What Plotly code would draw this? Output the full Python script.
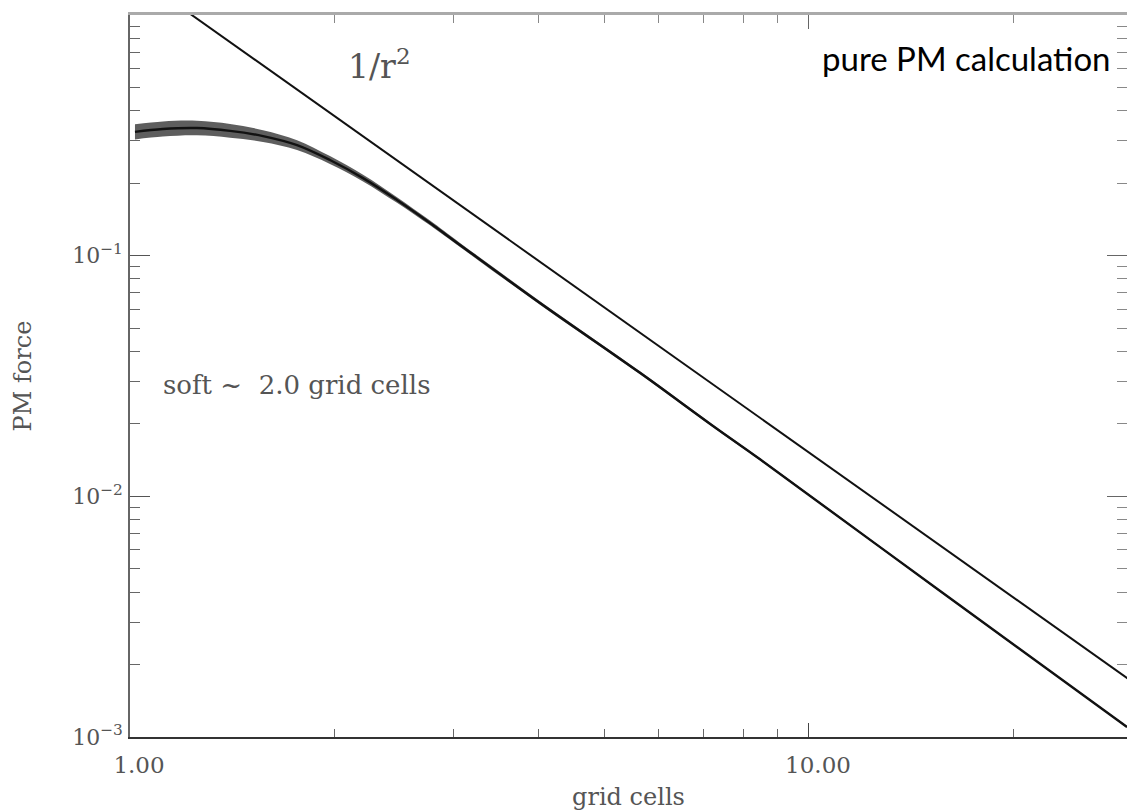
import numpy as np
import plotly.graph_objects as go

r_pm = [1.017, 1.118, 1.255, 1.404, 1.570, 1.762, 1.970, 2.204, 2.473, 2.766,
        3.062, 4.016, 5.637, 7.222, 8.470, 15.6, 29.4]
f_pm = [0.327, 0.336, 0.339, 0.330, 0.314, 0.288, 0.2497, 0.210, 0.1703, 0.1367,
        0.1108, 0.0636, 0.0326, 0.0196, 0.01425, 0.00404, 0.001101]
# fractional scatter of the measured points around the mean curve
f_spread = [0.075, 0.075, 0.072, 0.068, 0.058, 0.048, 0.038, 0.032, 0.027, 0.023,
            0.02, 0.017, 0.014, 0.012, 0.01, 0.008, 0.008]

# 1/r^2 reference line (end points)
r_ref = [1.2, 30.0]
f_ref = [1.056, 0.00169]

x_ticks = [1, 10]
x_ticktext = ["1.00", "10.00"]
y_ticks = [1e-3, 1e-2, 1e-1, 1]
y_ticktext = ["10<sup>−3</sup>", "10<sup>−2</sup>", "10<sup>−1</sup>", "10<sup>0</sup>"]

f_hi = [f * (1 + s) for f, s in zip(f_pm, f_spread)]
f_lo = [f / (1 + s) for f, s in zip(f_pm, f_spread)]

serif = "DejaVu Serif"
gray = "#555555"

fig = go.Figure()
fig.add_trace(go.Scatter(x=r_pm, y=f_lo, mode="lines", line=dict(width=0, shape="spline"),
                         showlegend=False, hoverinfo="skip"))
fig.add_trace(go.Scatter(x=r_pm, y=f_hi, mode="lines", line=dict(width=0, shape="spline"),
                         fill="tonexty", fillcolor="rgba(40,40,40,0.75)",
                         showlegend=False, hoverinfo="skip"))
fig.add_trace(go.Scatter(x=r_pm, y=f_pm, mode="lines",
                         line=dict(color="#111111", width=2.4, shape="spline"),
                         showlegend=False))
fig.add_trace(go.Scatter(x=r_ref, y=f_ref, mode="lines",
                         line=dict(color="#111111", width=2), showlegend=False))

xrange = [0, np.log10(29.4)]
yrange = [-3, 0]

fig.update_layout(
    width=1127, height=812,
    margin=dict(l=130, r=0, t=15, b=75, autoexpand=False),
    paper_bgcolor="white", plot_bgcolor="white",
    font=dict(family=serif, color=gray),
    xaxis=dict(type="log", range=xrange, showgrid=False, zeroline=False, automargin=False,
               showline=True, linecolor="#333333", linewidth=2,
               ticks="inside", ticklen=14, tickwidth=1.2, tickcolor="#444444",
               tickvals=x_ticks, ticktext=x_ticktext,
               tickfont=dict(family=serif, size=23, color=gray),
               ticklabelstandoff=6, ticklabelshift=9,
               minor=dict(ticks="inside", ticklen=8, tickwidth=1, tickcolor="#666666",
                          dtick="D1", showgrid=False),
               title=dict(text="grid cells", font=dict(family=serif, size=24, color=gray),
                          standoff=12)),
    yaxis=dict(type="log", range=yrange, showgrid=False, zeroline=False, automargin=False,
               showline=True, linecolor="#666666", linewidth=1.5,
               ticks="inside", ticklen=20, tickwidth=1.2, tickcolor="#555555",
               tickvals=y_ticks, ticktext=y_ticktext,
               tickfont=dict(family=serif, size=22, color=gray),
               ticklabelstandoff=1,
               minor=dict(ticks="inside", ticklen=10, tickwidth=1, tickcolor="#666666",
                          dtick="D1", showgrid=False),
               title=dict(text="PM force", font=dict(family=serif, size=24, color=gray),
                          standoff=34)),
    xaxis2=dict(type="log", range=xrange, overlaying="x", side="top", anchor="y",
                automargin=False,
                showgrid=False, zeroline=False, showline=True, linecolor="#aaaaaa",
                linewidth=3, ticks="inside", ticklen=14, tickwidth=1.2, tickcolor="#666666",
                tickvals=x_ticks, showticklabels=False,
                minor=dict(ticks="inside", ticklen=8, tickwidth=1, tickcolor="#888888",
                           dtick="D1", showgrid=False)),
    yaxis2=dict(type="log", range=yrange, overlaying="y", side="right", anchor="x",
                automargin=False,
                showgrid=False, zeroline=False, showline=True, linecolor="#777777",
                linewidth=1.5, ticks="inside", ticklen=20, tickwidth=1.2, tickcolor="#666666",
                tickvals=y_ticks, showticklabels=False,
                minor=dict(ticks="inside", ticklen=10, tickwidth=1, tickcolor="#888888",
                           dtick="D1", showgrid=False)),
)
# invisible trace to activate the mirrored axes
fig.add_trace(go.Scatter(x=r_ref, y=f_ref, xaxis="x2", yaxis="y2", mode="lines",
                         line=dict(width=0), showlegend=False, hoverinfo="skip"))

fig.add_annotation(x=np.log10(2.33), y=np.log10(0.62), xref="x", yref="y",
                   text="1/r<sup>2</sup>", showarrow=False,
                   font=dict(family=serif, size=33, color=gray))
fig.add_annotation(x=np.log10(1.11), y=np.log10(0.0290), xref="x", yref="y",
                   xanchor="left", text="soft ~  2.0 grid cells", showarrow=False,
                   font=dict(family=serif, size=26, color=gray))
fig.add_annotation(x=0.986, y=0.94, xref="paper", yref="paper", xanchor="right",
                   yanchor="middle", text="pure PM calculation", showarrow=False,
                   font=dict(family="Lato", size=33, color="black"))

fig.write_html("out.html", config={"displayModeBar": False},
               post_script="document.body.style.margin='0';document.body.style.overflow='hidden';")
